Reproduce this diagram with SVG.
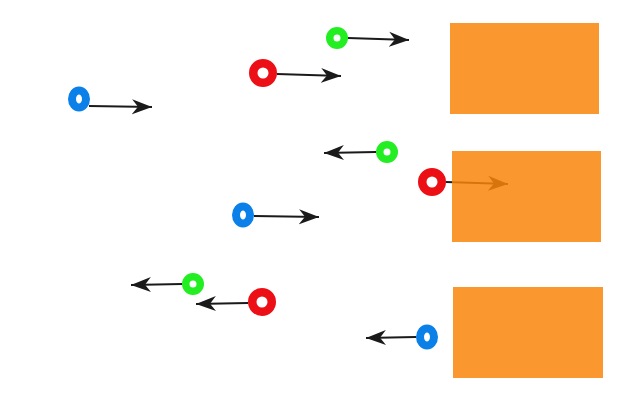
<svg xmlns="http://www.w3.org/2000/svg" width="640" height="400" viewBox="0 0 640 400">
<defs>
<marker id="ah" markerUnits="userSpaceOnUse" markerWidth="22" markerHeight="18" viewBox="-20 -9 22 18" refX="0" refY="0" orient="auto">
<path d="M0,0 L-20,-7.5 L-14,0 L-20,7.5 Z" fill="#1a1a1a"/>
</marker>
<style>
.c{stroke:#1a1a1a;stroke-width:2;fill:none;marker-end:url(#ah)}
.box{fill:#f9860b;fill-opacity:0.85}
.red{fill:none;stroke:#ec1016;stroke-width:8.5}
.green{fill:none;stroke:#22ee22;stroke-width:7.5}
.blue{fill:none;stroke:#0a80e8;stroke-width:8}
</style>
</defs>
<rect width="640" height="400" fill="#fff"/>
<g id="connectors">
<line class="c" x1="348" y1="38" x2="409" y2="40"/>
<line class="c" x1="277" y1="74" x2="341" y2="76"/>
<line class="c" x1="89" y1="106" x2="152" y2="107"/>
<line class="c" x1="376" y1="152" x2="324" y2="153"/>
<line class="c" x1="446" y1="182" x2="508" y2="184"/>
<line class="c" x1="254" y1="216" x2="319" y2="217"/>
<line class="c" x1="182" y1="284" x2="131" y2="285"/>
<line class="c" x1="248" y1="303" x2="196" y2="304"/>
<line class="c" x1="416" y1="337" x2="366" y2="338"/>
</g>
<g id="box1"><rect class="box" x="450" y="23" width="149" height="91"/></g>
<g id="box2"><rect class="box" x="452" y="151" width="149" height="91"/></g>
<g id="box3"><rect class="box" x="453" y="287" width="150" height="91"/></g>
<g id="green1"><circle class="green" cx="337" cy="38" r="7.25"/></g>
<g id="red1"><circle class="red" cx="263" cy="73" r="9.75"/></g>
<g id="blue1"><ellipse class="blue" cx="79" cy="99" rx="7" ry="8.5"/></g>
<g id="green2"><circle class="green" cx="387" cy="152" r="7.25"/></g>
<g id="red2"><circle class="red" cx="432" cy="182" r="9.75"/></g>
<g id="blue2"><ellipse class="blue" cx="243" cy="215" rx="7" ry="8.5"/></g>
<g id="green3"><circle class="green" cx="193" cy="284" r="7.25"/></g>
<g id="red3"><circle class="red" cx="262" cy="302" r="9.75"/></g>
<g id="blue3"><ellipse class="blue" cx="427" cy="337" rx="7" ry="8.5"/></g>
</svg>
